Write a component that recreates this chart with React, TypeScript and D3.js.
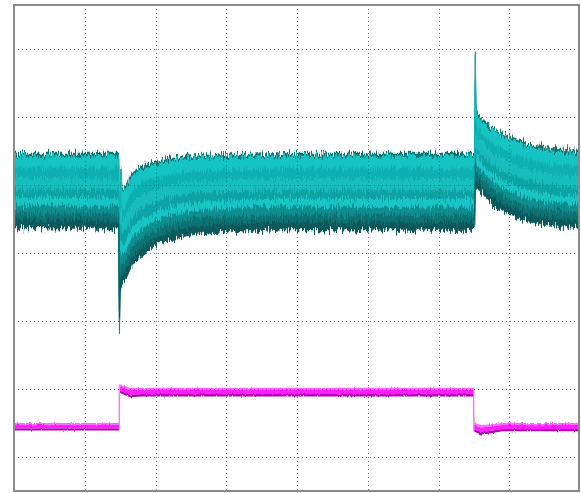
import React from 'react';
import * as d3 from 'd3';

// scope screen: 8 horizontal divisions, values in divisions (centre line = 0)
const timeDiv = [
  0, 1.48, 1.49, 1.5, 1.51, 1.53, 1.58, 1.64, 1.78, 1.99, 2.2, 2.49, 3.0, 3.48, 4.04,
  6.5, 6.51, 6.52, 6.53, 6.55, 6.6, 6.66, 6.8, 7.01, 7.22, 7.43, 7.72, 8.0,
];
const cyanHigh = [
  1.47, 1.47, 0.5, 0.6, 1.25, 0.95, 1.0, 1.13, 1.28, 1.34, 1.4, 1.43, 1.45, 1.46, 1.47,
  1.47, 1.47, 2.96, 2.2, 2.07, 2.02, 1.94, 1.82, 1.72, 1.63, 1.57, 1.53, 1.51,
];
const cyanLow = [
  0.37, 0.35, -1.16, -0.7, -0.5, -0.45, -0.4, -0.25, -0.07, 0.09, 0.18, 0.26, 0.31, 0.33, 0.34,
  0.33, 0.33, 0.9, 1.0, 0.95, 0.9, 0.82, 0.68, 0.56, 0.47, 0.43, 0.39, 0.37,
];

const pulseTime = [0, 1.482, 1.5, 1.55, 1.64, 1.8, 6.49, 6.508, 6.6, 6.75, 6.9, 8.0];
const pulseHigh = [-2.5, -2.5, -1.93, -1.95, -1.98, -1.98, -1.98, -2.5, -2.53, -2.52, -2.5, -2.5];
const pulseLow = [-2.61, -2.61, -2.06, -2.08, -2.12, -2.11, -2.11, -2.63, -2.67, -2.65, -2.62, -2.62];

const xGrid = [1, 2, 3, 4, 5, 6, 7];
const yGrid = [-3, -2, -1, 0, 1, 2, 3];

const W = 581;
const H = 493;
const left = 14, right = 579, top = 5, bottom = 491;

const bandStops = [0, 0.04, 0.2, 0.34, 0.48, 0.6, 0.7, 0.8, 0.9, 1];
const bandColors = ['#0d6f70', '#12c3c3', '#0fb0b1', '#16bdbd', '#0ea3a4', '#19c5c5', '#0c8f90', '#097273', '#07595a'];

export default function App() {
  const x = d3.scaleLinear().domain([0, 8]).range([14, 580]);
  const y = d3.scaleLinear().domain([-3.5, 3.647]).range([491, 5]);

  const idx = d3.range(timeDiv.length);
  const layer = (f0: number, f1: number) =>
    d3.area<number>()
      .x((i) => x(timeDiv[i]))
      .y0((i) => y(cyanHigh[i] + (cyanLow[i] - cyanHigh[i]) * f1))
      .y1((i) => y(cyanHigh[i] + (cyanLow[i] - cyanHigh[i]) * f0))
      .curve(d3.curveMonotoneX)(idx) || '';

  const pIdx = d3.range(pulseTime.length);
  const pLayer = (f0: number, f1: number) =>
    d3.area<number>()
      .x((i) => x(pulseTime[i]))
      .y0((i) => y(pulseHigh[i] + (pulseLow[i] - pulseHigh[i]) * f1))
      .y1((i) => y(pulseHigh[i] + (pulseLow[i] - pulseHigh[i]) * f0))(pIdx) || '';

  return (
    <svg width={W} height={H} style={{ position: 'absolute', left: 0, top: 0, background: '#fff' }}>
      <defs>
        <clipPath id="plot">
          <rect x={left} y={top} width={right - left} height={bottom - top} />
        </clipPath>
        <filter id="noise" x="-0.05" y="-0.3" width="1.1" height="1.6">
          <feTurbulence type="fractalNoise" baseFrequency="0.85 0.08" numOctaves={2} seed={7} result="t" />
          <feColorMatrix in="t" type="matrix" values="0 0 0 0 0.5  0 1 0 0 0  0 0 1 0 0  0 0 0 0 1" result="m" />
          <feDisplacementMap in="SourceGraphic" in2="m" scale={15} xChannelSelector="R" yChannelSelector="G" />
        </filter>
        <filter id="noise2" x="-0.05" y="-0.5" width="1.1" height="2">
          <feTurbulence type="fractalNoise" baseFrequency="0.7 0.1" numOctaves={1} seed={3} result="t" />
          <feColorMatrix in="t" type="matrix" values="0 0 0 0 0.5  0 1 0 0 0  0 0 1 0 0  0 0 0 0 1" result="m" />
          <feDisplacementMap in="SourceGraphic" in2="m" scale={3} xChannelSelector="R" yChannelSelector="G" />
        </filter>
      </defs>

      <g clipPath="url(#plot)">
        <g filter="url(#noise)">
          {bandColors.map((c, i) => (
            <path key={i} d={layer(bandStops[i], bandStops[i + 1])} fill={c} stroke={c} strokeWidth={0.6} />
          ))}
        </g>
        <line x1={x(pulseTime[1]) + 0.5} x2={x(pulseTime[1]) + 0.5} y1={y(pulseLow[1])} y2={y(pulseHigh[2])}
          stroke="#ff8cff" strokeWidth={1.5} />
        <line x1={x(pulseTime[6]) + 0.5} x2={x(pulseTime[6]) + 0.5} y1={y(pulseHigh[6])} y2={y(pulseLow[7])}
          stroke="#ff8cff" strokeWidth={1.5} />
        <g filter="url(#noise2)">
          <path d={pLayer(0, 0.25)} fill="#ff66ff" />
          <path d={pLayer(0.25, 0.72)} fill="#ff1aff" />
          <path d={pLayer(0.72, 1)} fill="#b400b4" />
        </g>

        {xGrid.map((g) => (
          <line key={'x' + g} x1={Math.round(x(g)) + 0.5} x2={Math.round(x(g)) + 0.5} y1={top} y2={bottom}
            stroke="#555" strokeWidth={1} strokeDasharray="1 3" opacity={0.8} />
        ))}
        {yGrid.map((g) => (
          <line key={'y' + g} x1={left} x2={right} y1={Math.round(y(g)) + 0.5} y2={Math.round(y(g)) + 0.5}
            stroke="#555" strokeWidth={1} strokeDasharray="1 3" opacity={0.8} />
        ))}
      </g>

      <rect x={left} y={top} width={right - left} height={bottom - top} fill="none" stroke="#8a8a8a" strokeWidth={2} />
    </svg>
  );
}
